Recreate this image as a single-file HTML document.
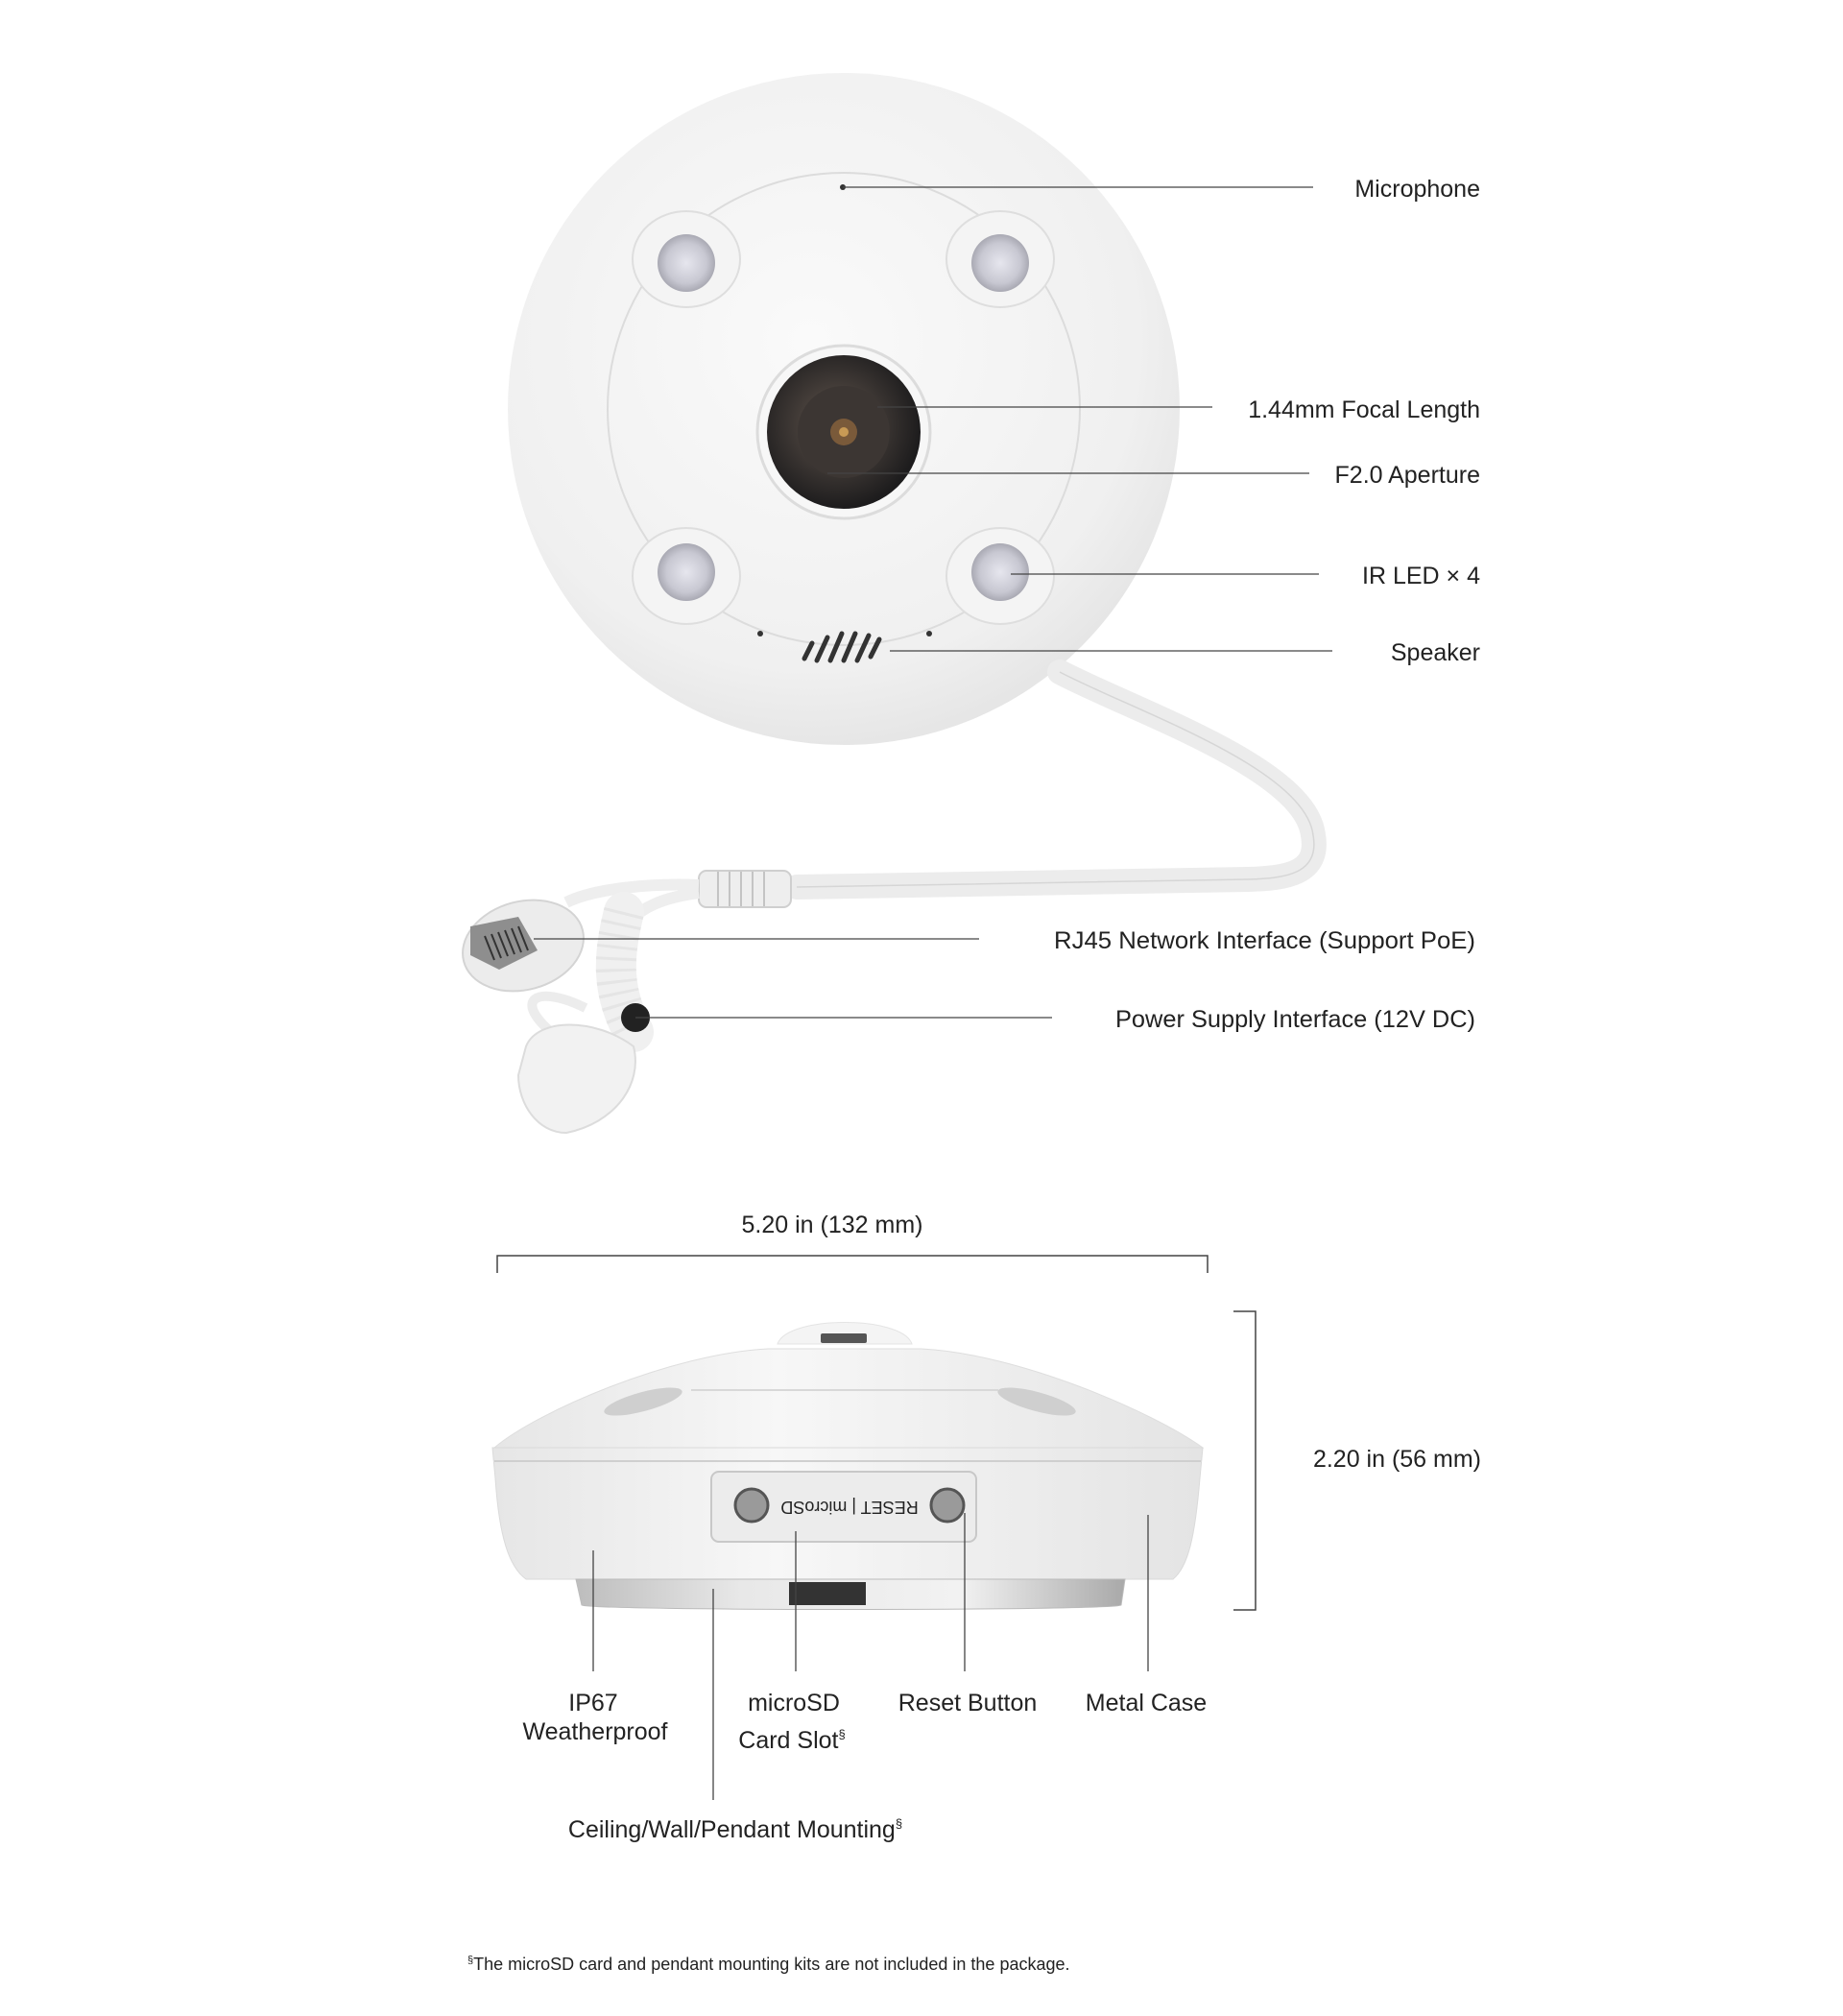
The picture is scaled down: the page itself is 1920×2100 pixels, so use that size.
<!DOCTYPE html>
<html><head><meta charset="utf-8"><style>
html,body{margin:0;padding:0;background:#fff;}
svg{display:block;}
text{font-family:"Liberation Sans",sans-serif;fill:#222;}
</style></head><body>
<svg width="1920" height="2100" viewBox="0 0 1920 2100" xmlns="http://www.w3.org/2000/svg">
<defs>
<radialGradient id="dome" cx="0.45" cy="0.4" r="0.65">
<stop offset="0" stop-color="#fafafa"/><stop offset="0.75" stop-color="#f0f0f0"/><stop offset="1" stop-color="#e2e2e2"/>
</radialGradient>
<radialGradient id="led" cx="0.5" cy="0.5" r="0.5">
<stop offset="0" stop-color="#e6e6ee"/><stop offset="0.7" stop-color="#c8c8d2"/><stop offset="1" stop-color="#a9a9b3"/>
</radialGradient>
<radialGradient id="lens" cx="0.45" cy="0.45" r="0.55">
<stop offset="0" stop-color="#6b5a4c"/><stop offset="0.35" stop-color="#4a423d"/><stop offset="1" stop-color="#1d1c1d"/>
</radialGradient>
<linearGradient id="body" x1="0" y1="0" x2="1" y2="0">
<stop offset="0" stop-color="#e6e6e6"/><stop offset="0.4" stop-color="#f7f7f7"/><stop offset="1" stop-color="#e4e4e4"/>
</linearGradient>
<linearGradient id="metal" x1="0" y1="0" x2="1" y2="0">
<stop offset="0" stop-color="#bdbdbd"/><stop offset="0.3" stop-color="#e8e8e8"/><stop offset="0.7" stop-color="#f2f2f2"/><stop offset="1" stop-color="#a9a9a9"/>
</linearGradient>
</defs>

<circle cx="879" cy="426" r="350" fill="url(#dome)"/>
<circle cx="879" cy="426" r="246" fill="none" stroke="#dcdcdc" stroke-width="2"/>
<g>
<ellipse cx="715" cy="270" rx="56" ry="50" fill="#f4f4f4" stroke="#dedede" stroke-width="2"/>
<ellipse cx="1042" cy="270" rx="56" ry="50" fill="#f4f4f4" stroke="#dedede" stroke-width="2"/>
<ellipse cx="715" cy="600" rx="56" ry="50" fill="#f4f4f4" stroke="#dedede" stroke-width="2"/>
<ellipse cx="1042" cy="600" rx="56" ry="50" fill="#f4f4f4" stroke="#dedede" stroke-width="2"/>
<circle cx="715" cy="274" r="30" fill="url(#led)"/>
<circle cx="1042" cy="274" r="30" fill="url(#led)"/>
<circle cx="715" cy="596" r="30" fill="url(#led)"/>
<circle cx="1042" cy="596" r="30" fill="url(#led)"/>
</g>
<circle cx="879" cy="450" r="90" fill="#f7f7f7" stroke="#dcdcdc" stroke-width="3"/>
<circle cx="879" cy="450" r="80" fill="url(#lens)"/>
<circle cx="879" cy="450" r="48" fill="#3c3633"/>
<circle cx="879" cy="450" r="14" fill="#7a5a3a"/>
<circle cx="879" cy="450" r="5" fill="#c89a55"/>
<circle cx="878" cy="195" r="3" fill="#333"/>
<circle cx="792" cy="660" r="3" fill="#333"/>
<circle cx="968" cy="660" r="3" fill="#333"/>
<g stroke="#333" stroke-width="5" stroke-linecap="round">
<line x1="838" y1="686" x2="846" y2="670"/><line x1="851" y1="688" x2="862" y2="664"/>
<line x1="865" y1="688" x2="877" y2="660"/><line x1="879" y1="688" x2="891" y2="660"/>
<line x1="893" y1="688" x2="905" y2="662"/><line x1="907" y1="684" x2="916" y2="666"/>
</g>

<path d="M1104 700 C1180 740 1360 800 1368 870 C1375 910 1340 915 1300 916 L830 924" fill="none" stroke="#ececec" stroke-width="26" stroke-linecap="round"/>
<path d="M1104 700 C1180 740 1360 800 1368 870 C1375 910 1340 915 1300 916 L830 924" fill="none" stroke="#d6d6d6" stroke-width="1.5"/>
<rect x="728" y="907" width="96" height="38" rx="8" fill="#eee" stroke="#cfcfcf" stroke-width="2"/>
<g stroke="#c4c4c4" stroke-width="2"><line x1="748" y1="908" x2="748" y2="944"/><line x1="760" y1="908" x2="760" y2="944"/><line x1="772" y1="908" x2="772" y2="944"/><line x1="784" y1="908" x2="784" y2="944"/><line x1="796" y1="908" x2="796" y2="944"/></g>
<path d="M728 922 C680 920 620 925 590 940" fill="none" stroke="#eee" stroke-width="12"/>
<path d="M728 930 C690 935 670 945 655 960" fill="none" stroke="#eee" stroke-width="12"/>
<ellipse cx="545" cy="985" rx="64" ry="46" fill="#ececec" stroke="#d4d4d4" stroke-width="2" transform="rotate(-15 545 985)"/>
<path d="M490 965 L540 955 L560 990 L520 1010 L490 995 Z" fill="#8e8e8e"/>
<g stroke="#333" stroke-width="2"><line x1="505" y1="975" x2="515" y2="1000"/><line x1="512" y1="973" x2="522" y2="998"/><line x1="519" y1="971" x2="529" y2="996"/><line x1="526" y1="969" x2="536" y2="994"/><line x1="533" y1="967" x2="543" y2="992"/><line x1="540" y1="965" x2="550" y2="990"/></g>
<path d="M650 950 C640 990 635 1030 660 1075" fill="none" stroke="#f0f0f0" stroke-width="42" stroke-linecap="round"/>
<path d="M650 950 C640 990 635 1030 660 1075" fill="none" stroke="#dedede" stroke-width="42" stroke-dasharray="3 9" opacity="0.6"/>
<circle cx="662" cy="1060" r="15" fill="#222"/>
<path d="M580 1080 C530 1040 560 1025 610 1050" fill="none" stroke="#ececec" stroke-width="10"/>
<path d="M548 1090 C560 1060 620 1060 660 1090 C670 1130 640 1170 590 1180 C560 1180 540 1150 540 1120 Z" fill="#f2f2f2" stroke="#dcdcdc" stroke-width="2"/>

<g stroke="#444" stroke-width="1.3">
<line x1="878" y1="195" x2="1368" y2="195"/>
<line x1="914" y1="424" x2="1263" y2="424"/>
<line x1="862" y1="493" x2="1364" y2="493"/>
<line x1="1053" y1="598" x2="1374" y2="598"/>
<line x1="927" y1="678" x2="1388" y2="678"/>
<line x1="556" y1="978" x2="1020" y2="978"/>
<line x1="662" y1="1060" x2="1096" y2="1060"/>
</g>
<g font-size="25" text-anchor="end">
<text x="1542" y="205">Microphone</text>
<text x="1542" y="435">1.44mm Focal Length</text>
<text x="1542" y="503">F2.0 Aperture</text>
<text x="1542" y="608">IR LED × 4</text>
<text x="1542" y="688">Speaker</text>
<text x="1537" y="988" textLength="439" lengthAdjust="spacingAndGlyphs">RJ45 Network Interface (Support PoE)</text>
<text x="1537" y="1070" textLength="375" lengthAdjust="spacingAndGlyphs">Power Supply Interface (12V DC)</text>
</g>

<text x="867" y="1284" font-size="25" text-anchor="middle">5.20 in (132 mm)</text>
<path d="M518 1326 V1308 H1258 V1326" fill="none" stroke="#444" stroke-width="1.5"/>
<path d="M1285 1366 H1308 V1677 H1285" fill="none" stroke="#444" stroke-width="1.5"/>
<text x="1543" y="1528" font-size="25" text-anchor="end">2.20 in (56 mm)</text>

<path d="M810 1400 C820 1370 940 1370 950 1400 Z" fill="#f4f4f4" stroke="#e4e4e4"/>
<rect x="855" y="1389" width="48" height="10" rx="2" fill="#555"/>
<path d="M515 1508 C560 1470 700 1410 800 1405 L960 1405 C1060 1410 1200 1470 1253 1508 Z" fill="url(#body)" stroke="#dedede"/>
<line x1="720" y1="1448" x2="1040" y2="1448" stroke="#d8d8d8" stroke-width="2"/>
<ellipse cx="670" cy="1460" rx="42" ry="10" fill="#cfcfcf" transform="rotate(-15 670 1460)"/>
<ellipse cx="1080" cy="1460" rx="42" ry="10" fill="#cfcfcf" transform="rotate(15 1080 1460)"/>
<path d="M513 1508 L1253 1508 L1250 1540 C1245 1600 1238 1632 1222 1645 L548 1645 C530 1632 520 1600 516 1540 Z" fill="url(#body)" stroke="#dadada"/>
<line x1="515" y1="1522" x2="1251" y2="1522" stroke="#cfcfcf" stroke-width="2"/>
<rect x="741" y="1533" width="276" height="73" rx="8" fill="#ececec" stroke="#c8c8c8" stroke-width="2"/>
<circle cx="783" cy="1568" r="17" fill="#9a9a9a" stroke="#555" stroke-width="3"/>
<circle cx="987" cy="1568" r="17" fill="#9a9a9a" stroke="#555" stroke-width="3"/>
<text x="885" y="1576" font-size="18" text-anchor="middle" transform="rotate(180 885 1570)" fill="#444">RESET | microSD</text>
<path d="M600 1645 L1172 1645 L1168 1672 C1160 1678 615 1678 606 1672 Z" fill="url(#metal)" stroke="#bbb"/>
<rect x="822" y="1648" width="80" height="24" fill="#333"/>

<g stroke="#444" stroke-width="1.3">
<line x1="618" y1="1615" x2="618" y2="1741"/>
<line x1="829" y1="1595" x2="829" y2="1741"/>
<line x1="1005" y1="1576" x2="1005" y2="1741"/>
<line x1="1196" y1="1578" x2="1196" y2="1741"/>
<line x1="743" y1="1655" x2="743" y2="1875"/>
</g>
<g font-size="25" text-anchor="middle">
<text x="618" y="1782">IP67</text>
<text x="620" y="1812">Weatherproof</text>
<text x="827" y="1782">microSD</text>
<text x="825" y="1821">Card Slot<tspan font-size="13" dy="-10">§</tspan></text>
<text x="1008" y="1782">Reset Button</text>
<text x="1194" y="1782">Metal Case</text>
<text x="766" y="1914">Ceiling/Wall/Pendant Mounting<tspan font-size="13" dy="-10">§</tspan></text>
</g>
<text x="487" y="2052" font-size="18"><tspan font-size="11" dy="-7">§</tspan><tspan dy="7">The microSD card and pendant mounting kits are not included in the package.</tspan></text>
</svg>
</body></html>
